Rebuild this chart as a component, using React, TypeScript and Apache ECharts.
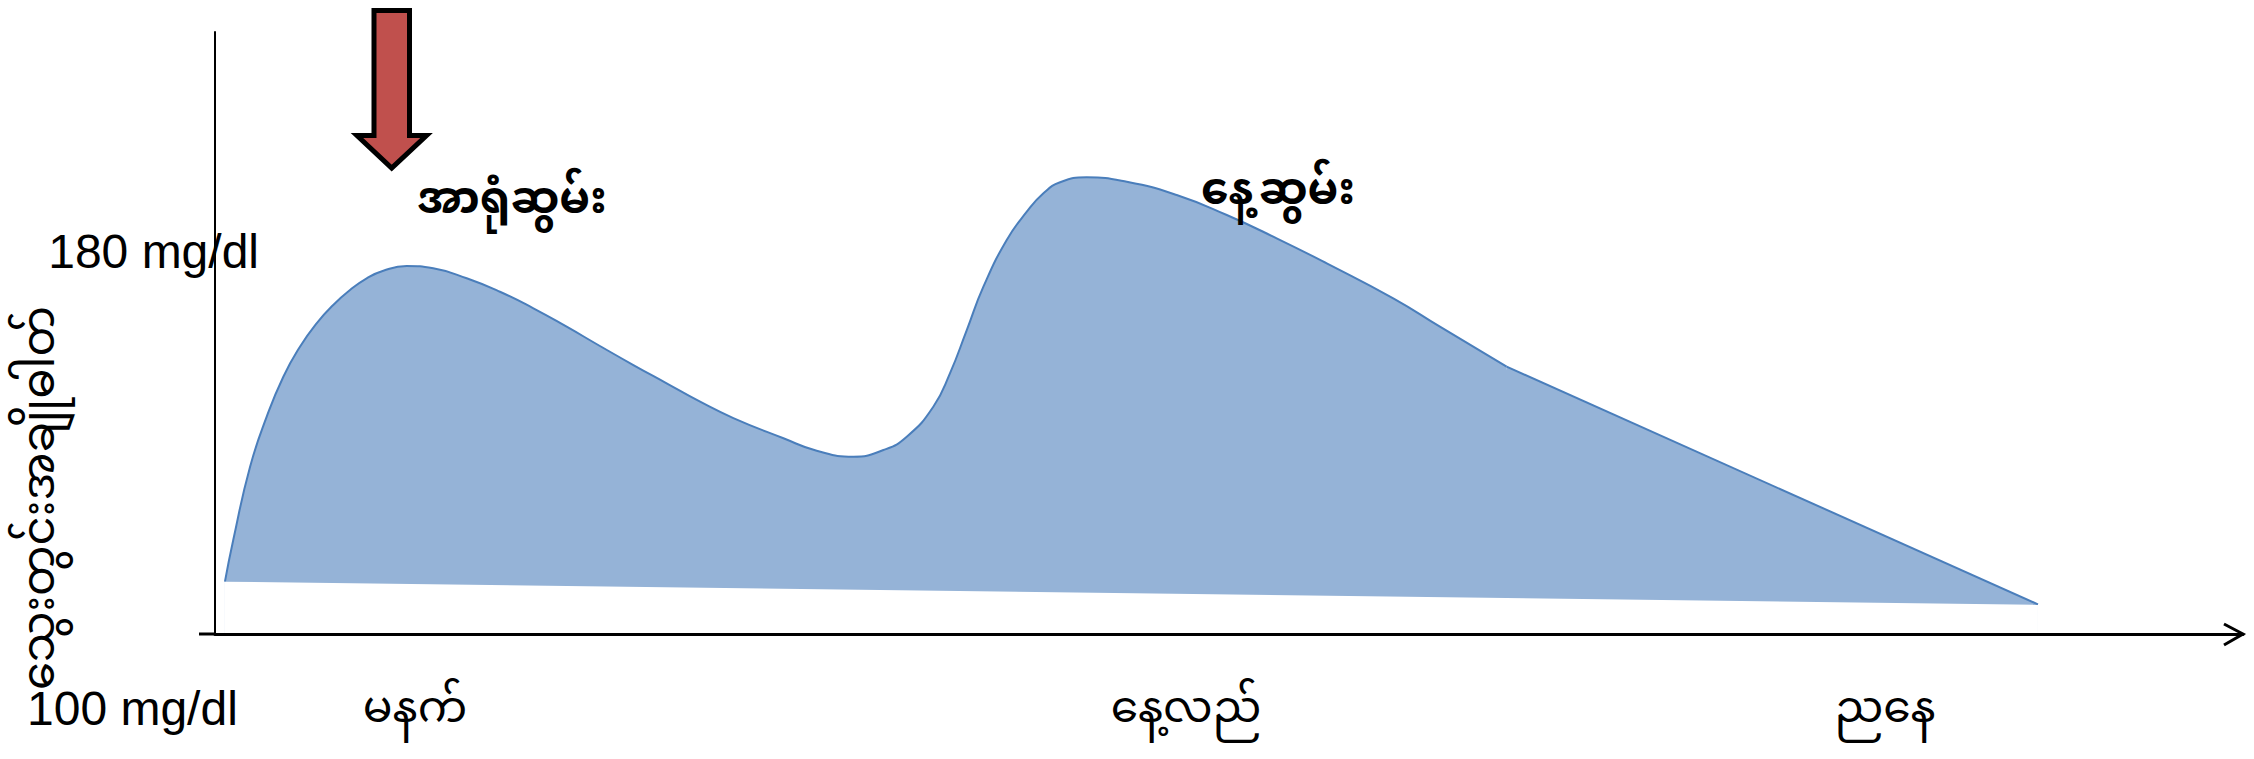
import React, { useEffect, useRef } from "react";
import * as echarts from "echarts";

// Blood-glucose curve over the day (schematic, mg/dl on the value axis)
const X_LABELS = ["မနက်", "နေ့လည်", "ညနေ"];
const X_LABEL_POS = [9.86, 47.88, 82.35];

// Smooth part of the glucose curve: [time, level]
const CURVE: [number, number][] = [
  [0.49, 110.95], [0.9, 119.67], [1.73, 135.0], [2.55, 145.48], [3.37, 153.85],
  [4.19, 160.13], [5.01, 165.03], [5.83, 168.86], [6.66, 172.0], [7.48, 174.45],
  [8.3, 176.04], [9.45, 177.02], [10.76, 176.54], [12.41, 174.45], [14.05, 171.64],
  [15.7, 168.17], [17.34, 164.32], [18.98, 160.28], [20.63, 156.3], [22.27, 152.47],
  [23.92, 148.62], [25.56, 145.2], [28.03, 140.96], [29.67, 138.36], [31.48, 137.11],
  [32.96, 138.51], [34.11, 141.29], [35.42, 147.57], [36.24, 154.56], [37.07, 163.62],
  [37.89, 172.69], [39.04, 182.46], [40.03, 188.38], [40.85, 192.24], [41.67, 194.54],
  [42.98, 195.58], [44.96, 194.66], [47.42, 191.88], [49.89, 187.69], [52.35, 182.82],
  [54.82, 177.58], [58.1, 170.26], [60.4, 164.32], [63.69, 155.95],
];
// Straight decline after the afternoon kink
const TAIL: [number, number][] = [
  [63.69, 155.95], [89.89, 106.2],
];
// Lower edge of the shaded band
const BASE: [number, number][] = [
  [0.49, 110.95], [89.89, 106.1],
];

const Y_TITLE = "သွေးတွင်းအချိုဓါတ်";
const MEAL_1 = "အာရုံဆွမ်း";
const MEAL_2 = "နေ့ဆွမ်း";
const TOP_TICK = 180;
const LOW_LABEL = "100 mg/dl";

const MY_FONT = "'Noto Sans Myanmar', 'Myanmar Text', Padauk, 'Noto Sans', sans-serif";
const LATIN_FONT = "'Liberation Sans', Arial, sans-serif";
const FILL = "#95b3d7";
const EDGE = "#4a7ebb";

const KINK = TAIL[0];

export default function App() {
  const ref = useRef<HTMLDivElement>(null);

  useEffect(() => {
    if (!ref.current) return;
    const chart = echarts.init(ref.current, undefined, { renderer: "svg" });
    chart.setOption({
      animation: false,
      backgroundColor: "#ffffff",
      grid: { left: 215, right: 11, top: 32, bottom: 125, containLabel: false },
      xAxis: {
        type: "value",
        min: 0,
        max: 100,
        z: 10,
        splitLine: { show: false },
        axisTick: { show: false },
        axisLine: { show: true, lineStyle: { color: "#000", width: 3 } },
        axisLabel: {
          customValues: X_LABEL_POS,
          margin: 56,
          fontSize: 44,
          fontFamily: MY_FONT,
          color: "#000",
          formatter: (v: number) => {
            let best = 0;
            X_LABEL_POS.forEach((p, i) => {
              if (Math.abs(p - v) < Math.abs(X_LABEL_POS[best] - v)) best = i;
            });
            return X_LABELS[best];
          },
        },
      },
      yAxis: {
        type: "value",
        min: 100,
        max: 226,
        z: 10,
        splitLine: { show: false },
        axisTick: { show: false },
        axisLine: { show: true, lineStyle: { color: "#000", width: 2 } },
        axisLabel: {
          customValues: [TOP_TICK],
          margin: -44,
          fontSize: 48,
          fontFamily: LATIN_FONT,
          color: "#000",
          formatter: (v: number) => `${v} mg/dl`,
        },
      },
      series: [
        {
          type: "line",
          data: CURVE,
          smooth: 0.5,
          symbol: "none",
          lineStyle: { color: EDGE, width: 2 },
          areaStyle: { color: FILL, opacity: 1, origin: "start" },
          z: 2,
        },
        {
          type: "line",
          data: TAIL,
          smooth: false,
          symbol: "none",
          lineStyle: { color: EDGE, width: 2 },
          areaStyle: { color: FILL, opacity: 1, origin: "start" },
          z: 2,
          // closes the hairline where the two fills meet
          markLine: {
            silent: true,
            symbol: "none",
            label: { show: false },
            lineStyle: { color: FILL, width: 3, type: "solid" },
            data: [[{ coord: [KINK[0], 100] }, { coord: [KINK[0], KINK[1] - 0.6] }]],
          },
        },
        {
          // clears the region under the band's lower edge
          type: "line",
          data: BASE,
          smooth: false,
          symbol: "none",
          lineStyle: { width: 0 },
          areaStyle: { color: "#ffffff", opacity: 1, origin: "start" },
          z: 6,
          silent: true,
        },
      ],
      graphic: [
        // stub of the time axis left of the value axis
        { type: "line", shape: { x1: 199, y1: 634, x2: 216, y2: 634 }, style: { stroke: "#000", lineWidth: 3 }, z: 20 },
        // open arrow head of the time axis
        {
          type: "polyline",
          shape: { points: [[2224, 624], [2243, 634], [2224, 645]] },
          style: { stroke: "#000", lineWidth: 3, fill: "none" },
          z: 20,
        },
        // breakfast marker arrow
        {
          type: "polygon",
          shape: {
            points: [
              [374, 10.5], [409.5, 10.5], [409.5, 135.5], [426.5, 135.5],
              [391.7, 168], [357, 135.5], [374, 135.5],
            ],
          },
          style: { fill: "#c0504d", stroke: "#000", lineWidth: 5, lineJoin: "miter" },
          z: 20,
        },
        {
          type: "text",
          x: 512,
          y: 203,
          style: { text: MEAL_1, font: `bold 44px ${MY_FONT}`, fill: "#000", align: "center", verticalAlign: "middle", lineHeight: 50 },
          z: 20,
        },
        {
          type: "text",
          x: 1278,
          y: 194,
          style: { text: MEAL_2, font: `bold 44px ${MY_FONT}`, fill: "#000", align: "center", verticalAlign: "middle", lineHeight: 50 },
          z: 20,
        },
        {
          type: "text",
          x: 43,
          y: 498,
          rotation: Math.PI / 2,
          style: { text: Y_TITLE, font: `45px ${MY_FONT}`, fill: "#000", align: "center", verticalAlign: "middle", lineHeight: 50 },
          z: 20,
        },
        {
          type: "text",
          x: 27,
          y: 708,
          style: { text: LOW_LABEL, font: `48px ${LATIN_FONT}`, fill: "#000", align: "left", verticalAlign: "middle" },
          z: 20,
        },
      ],
    });
    return () => chart.dispose();
  }, []);

  return (
    <div
      ref={ref}
      style={{ position: "fixed", left: 0, top: 0, width: 2254, height: 759, background: "#fff" }}
    />
  );
}
